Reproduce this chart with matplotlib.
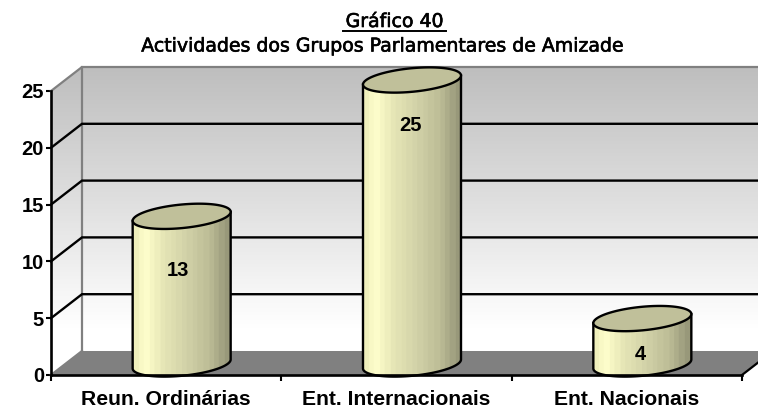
import numpy as np
import matplotlib
matplotlib.use("Agg")
import matplotlib.pyplot as plt
import matplotlib.patheffects as pe
from matplotlib.patches import Polygon
from matplotlib.lines import Line2D
from matplotlib.colors import LinearSegmentedColormap

categories = ["Reun. Ordinárias", "Ent. Internacionais", "Ent. Nacionais"]
values = [13, 25, 4]
y_ticks = [0, 5, 10, 15, 20, 25]
title_top = "Gráfico 40"
title_sub = "Actividades dos Grupos Parlamentares de Amizade"

W, H = 758, 408
fig = plt.figure(figsize=(W / 100, H / 100), dpi=100, facecolor="white")
L, R, B, T = 51, 742, 375, 91
ax = fig.add_axes([L / W, 1 - B / H, (R - L) / W, (B - T) / H])
ax.patch.set_visible(False)

px_x = (R - L) / 3
px_y = (B - T) / 25
DX = 31 / px_x      # depth offset, data units
DY = 24 / px_y
EXT = 3 + DX        # wall runs past the right edge

wall_cmap = LinearSegmentedColormap.from_list("w", [(0, "#ffffff"), (0.15, "#ffffff"), (1, "#bebebe")])

# walls
wall_poly = Polygon([(0, 0), (DX, DY), (EXT, DY), (EXT, 25 + DY), (DX, 25 + DY), (0, 25)],
                    closed=True, transform=ax.transData, fc="none", ec="none")
ax.add_patch(wall_poly)
im = ax.imshow(np.linspace(0, 1, 128).reshape(-1, 1), extent=(0, EXT, 0, 25 + DY), cmap=wall_cmap,
               vmin=0, vmax=1, origin="lower", aspect="auto", zorder=1)
im.set_clip_box(fig.bbox)
im.set_clip_path(wall_poly)

# floor
ax.add_patch(Polygon([(0, 0), (DX, DY), (3 + DX, DY), (3, 0)],
                     closed=True, fc="#808080", ec="none", zorder=2, clip_on=False))

# wall outlines
gray = "#808080"
ax.plot([0, DX, DX], [25, 25 + DY, DY], color=gray, lw=1.6, zorder=3, clip_on=False)
ax.plot([DX, EXT], [25 + DY, 25 + DY], color=gray, lw=1.6, zorder=3, clip_on=False)
ax.plot([0, DX], [0, DY], color=gray, lw=1.6, zorder=3, clip_on=False)
ax.plot([3, 3 + DX], [0, DY], color="black", lw=1.6, zorder=3, clip_on=False)

# gridlines
for v in y_ticks[1:-1]:
    ax.plot([0, DX, EXT], [v, v + DY, v + DY], color="black", lw=1.7, zorder=3, clip_on=False,
            solid_joinstyle="miter")

# cylinders
cyl_cmap = LinearSegmentedColormap.from_list(
    "c", [(0, "#f0f0bc"), (0.1, "#ffffcc"), (0.3, "#e6e6b6"), (0.55, "#d2d2a8"),
          (0.8, "#bcbc96"), (1, "#98987a")], N=18)
a = 49 / px_x
b = 11.8 / px_y
k = 4.5 / px_y
t = np.linspace(0, 2 * np.pi, 200)
base = DY / 2 - 1 / px_y
label_y = [9.2, 21.95, 1.8]
label_dx = [-3.5 / px_x, -1 / px_x, -2 / px_x]

for i, v in enumerate(values):
    cx = i + 0.5 + DX / 2
    tb = np.linspace(np.pi, 2 * np.pi, 80)
    xs_low = cx + a * np.cos(tb)
    ys_low = base + b * np.sin(tb) + k * np.cos(tb)
    tt = np.linspace(0, np.pi, 80)
    xs_up = cx + a * np.cos(tt)
    ys_up = base + v + b * np.sin(tt) + k * np.cos(tt)
    body = Polygon(np.r_[np.c_[xs_low, ys_low], np.c_[xs_up, ys_up]], closed=True,
                   fc="none", ec="none", zorder=4)
    ax.add_patch(body)
    img = ax.imshow(np.linspace(0, 1, 64).reshape(1, -1), extent=(cx - a, cx + a, -2, 32),
                    cmap=cyl_cmap, aspect="auto", zorder=4)
    img.set_clip_box(fig.bbox)
    img.set_clip_path(body)
    ax.plot(np.r_[xs_up[-1], xs_low, xs_up[0]], np.r_[ys_up[-1], ys_low, ys_up[0]],
            color="black", lw=1.7, zorder=5, clip_on=False)
    ax.fill(cx + a * np.cos(t), base + v + b * np.sin(t) + k * np.cos(t), fc="#c0c09a",
            ec="black", lw=1.7, zorder=6, clip_on=False)
    ax.text(cx + label_dx[i], label_y[i], str(v), ha="center", va="center",
            fontfamily="Liberation Sans", fontweight="bold", fontsize=14.5, zorder=7)

ax.set_xlim(0, 3)
ax.set_ylim(0, 25)

# axes
for s in ["top", "right"]:
    ax.spines[s].set_visible(False)
for s in ["left", "bottom"]:
    ax.spines[s].set_linewidth(1.9)
    ax.spines[s].set_zorder(8)
ax.set_yticks(y_ticks)
ax.set_xticks([0, 1, 2, 3])
ax.set_xticklabels([])
ax.set_xticks([0.5, 1.5, 2.5], minor=True)
ax.set_xticklabels(categories, minor=True, fontfamily="Liberation Sans", fontweight="bold", fontsize=15.2)
ax.tick_params(axis="x", which="major", length=4, width=1.5)
ax.tick_params(axis="x", which="minor", length=0, pad=11)
ax.tick_params(axis="y", length=3.5, width=1.5, pad=1.5)
for lab in ax.get_yticklabels():
    lab.set_fontfamily("Liberation Sans")
    lab.set_fontweight("bold")
    lab.set_fontsize(14.5)

# titles
tfont = dict(family="DejaVu Sans", fontsize=12, ha="center", va="baseline", color="black")
t1 = fig.text(394.5 / W, 1 - 27 / H, title_top, **tfont)
t2 = fig.text(382.5 / W, 1 - 51.5 / H, title_sub, **tfont)
renderer = fig.canvas.get_renderer()
size = 12 * 481 / t2.get_window_extent(renderer).width
for tx in (t1, t2):
    tx.set_fontsize(size)
    tx.set_path_effects([pe.withStroke(linewidth=0.45, foreground="black")])
fig.add_artist(Line2D([342.5 / W, 446 / W], [1 - 30.5 / H, 1 - 30.5 / H], color="black", lw=1.4))

fig.savefig("out.png", dpi=100)
